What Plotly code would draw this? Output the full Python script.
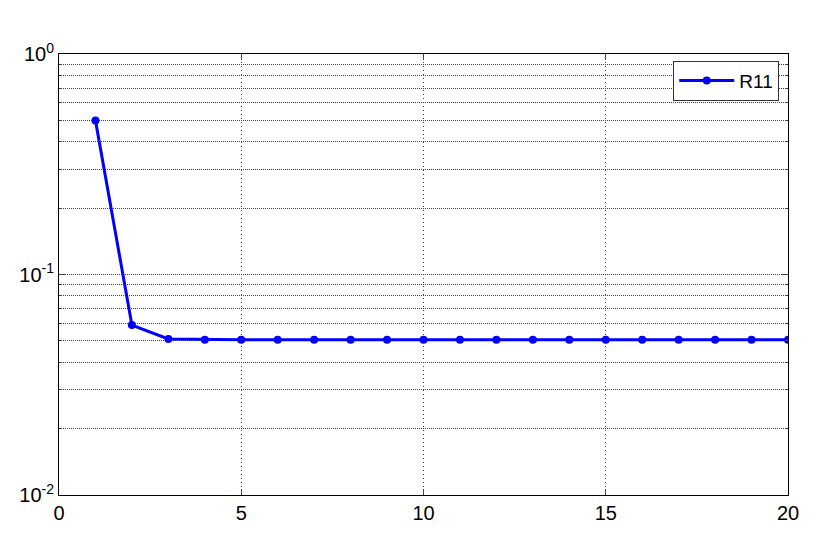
import plotly.graph_objects as go

iterations = list(range(1, 21))
r11 = [0.5, 0.059, 0.051, 0.0506, 0.0506, 0.0506, 0.0506, 0.0506, 0.0506, 0.0506,
       0.0506, 0.0506, 0.0506, 0.0506, 0.0506, 0.0506, 0.0506, 0.0506, 0.0506, 0.0506]

x_ticks = [0, 5, 10, 15, 20]
y_ticks = [0.01, 0.1, 1]
y_tick_text = ["10<sup>-2</sup>", "10<sup>-1</sup>", "10<sup>0</sup>"]

fig = go.Figure()
fig.add_trace(go.Scatter(
    x=iterations, y=r11, mode="lines+markers", name="R11",
    line=dict(color="#0000ff", width=3),
    marker=dict(color="#0000ff", size=8),
))

# page body has an 8px margin, so the figure is a bit smaller than the window
fig.update_layout(
    width=822, height=546,
    margin=dict(l=51, r=42, t=46, b=59),
    paper_bgcolor="white", plot_bgcolor="white",
    font=dict(family="Liberation Sans, Arial, sans-serif", size=19, color="black"),
    showlegend=True,
    legend=dict(
        x=0.988, y=0.985, xanchor="right", yanchor="top",
        bordercolor="#333333", borderwidth=1, bgcolor="white",
        font=dict(size=19), itemwidth=55,
    ),
)

fig.update_xaxes(
    range=[0, 20], tickvals=x_ticks, ticks="inside", ticklen=6,
    showline=True, linecolor="black", linewidth=1, mirror="ticks",
    showgrid=True, gridcolor="#444444", griddash="1px,3px", gridwidth=1,
    zeroline=False, tickfont=dict(size=20),
)
fig.update_yaxes(
    type="log", range=[-2, 0], tickvals=y_ticks, ticktext=y_tick_text,
    ticks="inside", ticklen=6,
    showline=True, linecolor="black", linewidth=1, mirror="ticks",
    showgrid=True, gridcolor="#444444", griddash="1px,1px", gridwidth=1,
    minor=dict(ticks="inside", ticklen=3, showgrid=True, gridcolor="#444444",
               griddash="1px,1px", dtick="D1"),
    zeroline=False, tickfont=dict(size=20),
)

fig.write_html("out.html")
